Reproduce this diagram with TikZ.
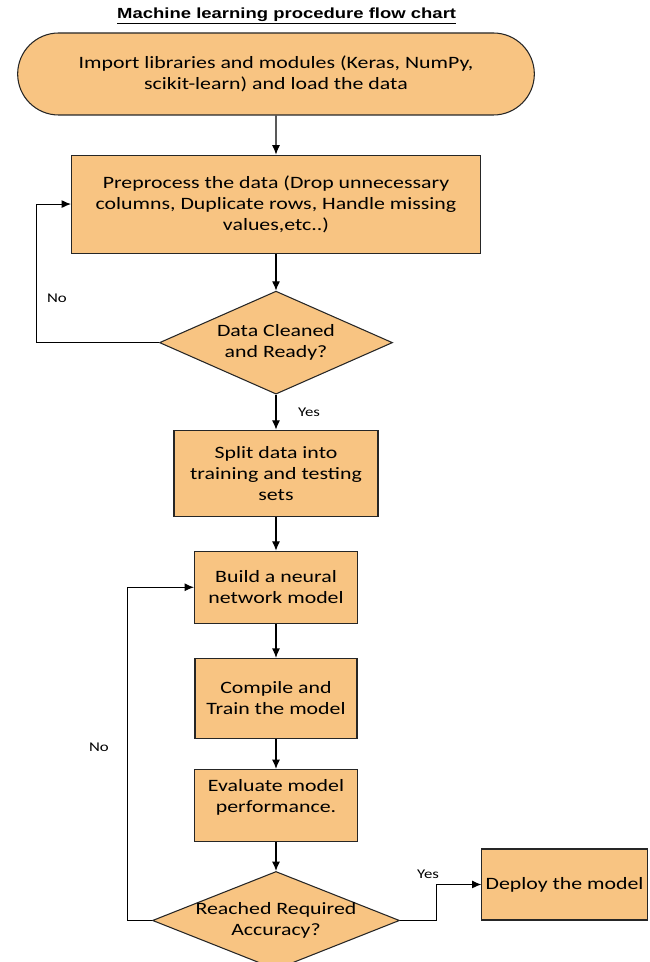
\documentclass[tikz,border=0pt]{standalone}
\usepackage{fontspec}
\setmainfont{Carlito}[FakeStretch=1.26]
\newfontfamily\titlefont{Liberation Sans}[FakeStretch=1.26]
\usetikzlibrary{arrows.meta,positioning,calc,shapes.geometric,shapes.misc}
\definecolor{boxorange}{RGB}{248,196,130}

\begin{document}
\begin{tikzpicture}
    [auto=left,>={Latex[length=7pt,width=6pt]},
    box/.style={rectangle,draw=black!85,line width=0.8pt,fill=boxorange,align=center,inner sep=2pt,font=\fontsize{13pt}{15.75pt}\selectfont},
    dec/.style={diamond,aspect=2.3,draw=black!85,line width=0.8pt,fill=boxorange,align=center,inner sep=-6pt,font=\fontsize{13pt}{15.75pt}\selectfont},
    lbl/.style={inner sep=0pt,font=\fontsize{10pt}{12pt}\selectfont},
    flow/.style={->,line width=0.8pt}]

    \useasboundingbox (-207pt,-666pt) rectangle (279.75pt,55.5pt);

    %   \node[box] (start) at (0,0) {};
    \node[box,rounded rectangle,minimum width=391.5pt,minimum height=61.5pt] (import) at (0,0) {Import libraries and modules (Keras, NumPy,\\scikit-learn) and load the data};
    \node[inner sep=0pt,above=6pt of import,xshift=8pt] (title) {\titlefont\bfseries\fontsize{11pt}{13pt}\selectfont\underline{Machine learning procedure flow chart}};
    \node[box,minimum width=306.75pt,minimum height=73.5pt,below=29.25pt of import] (prep) {Preprocess the data (Drop unnecessary\\columns, Duplicate rows, Handle missing\\values,etc..)};
    \node[dec,minimum width=174.75pt,minimum height=77.25pt,below=27.75pt of prep] (clean) {Data Cleaned\\and Ready?};
    \node[box,minimum width=153pt,minimum height=64.5pt,below=26.25pt of clean] (split) {Split data into\\training and testing\\sets};
    \node[box,minimum width=122.25pt,minimum height=54pt,below=25.5pt of split] (build) {Build a neural\\network model};
    \node[box,minimum width=121.5pt,minimum height=60pt,below=25.5pt of build] (train) {Compile and\\Train the model};
    \node[box,minimum width=122.25pt,minimum height=54pt,text depth=14pt,below=22.5pt of train] (evaluate) {Evaluate model\\performance.};
    \node[dec,aspect=2.5,minimum width=185.25pt,minimum height=73.5pt,below=21.75pt of evaluate] (accuracy) {Reached Required\\Accuracy?};
    \node[box,minimum width=124pt,minimum height=53.25pt,right=61pt of accuracy,yshift=27pt] (deploy) {Deploy the model};

    % loop corners
    \coordinate (loopA) at ([xshift=-91.5pt]clean.west);
    \coordinate (loopB) at ([xshift=-18pt]accuracy.west);
    \coordinate (yesB) at ([xshift=27pt]accuracy.east);

    \draw[flow] (import) -- (prep);
    \draw[flow] (prep) -- (clean);
    \draw[flow] (clean) -- (split);
    \draw[flow] (split) -- (build);
    \draw[flow] (build) -- (train);
    \draw[flow] (train) -- (evaluate);
    \draw[flow] (evaluate) -- (accuracy);
    \draw[flow] (clean.west) -- (loopA) |- (prep.west);
    \draw[flow] (accuracy.west) -- (loopB) |- (build.west);
    \draw[flow] (accuracy.east) -- (yesB) |- (deploy.west);

    \node[lbl] (no1) at ($(loopA)+(15pt,33pt)$) {No};
    \node[lbl] (yes1) at ($(clean.south)+(24.75pt,-13.5pt)$) {Yes};
    \node[lbl] (no2) at ($(loopB)+(-21.75pt,129.75pt)$) {No};
    \node[lbl] (yes2) at ($(yesB)+(-6pt,34.5pt)$) {Yes};
\end{tikzpicture}
\end{document}
